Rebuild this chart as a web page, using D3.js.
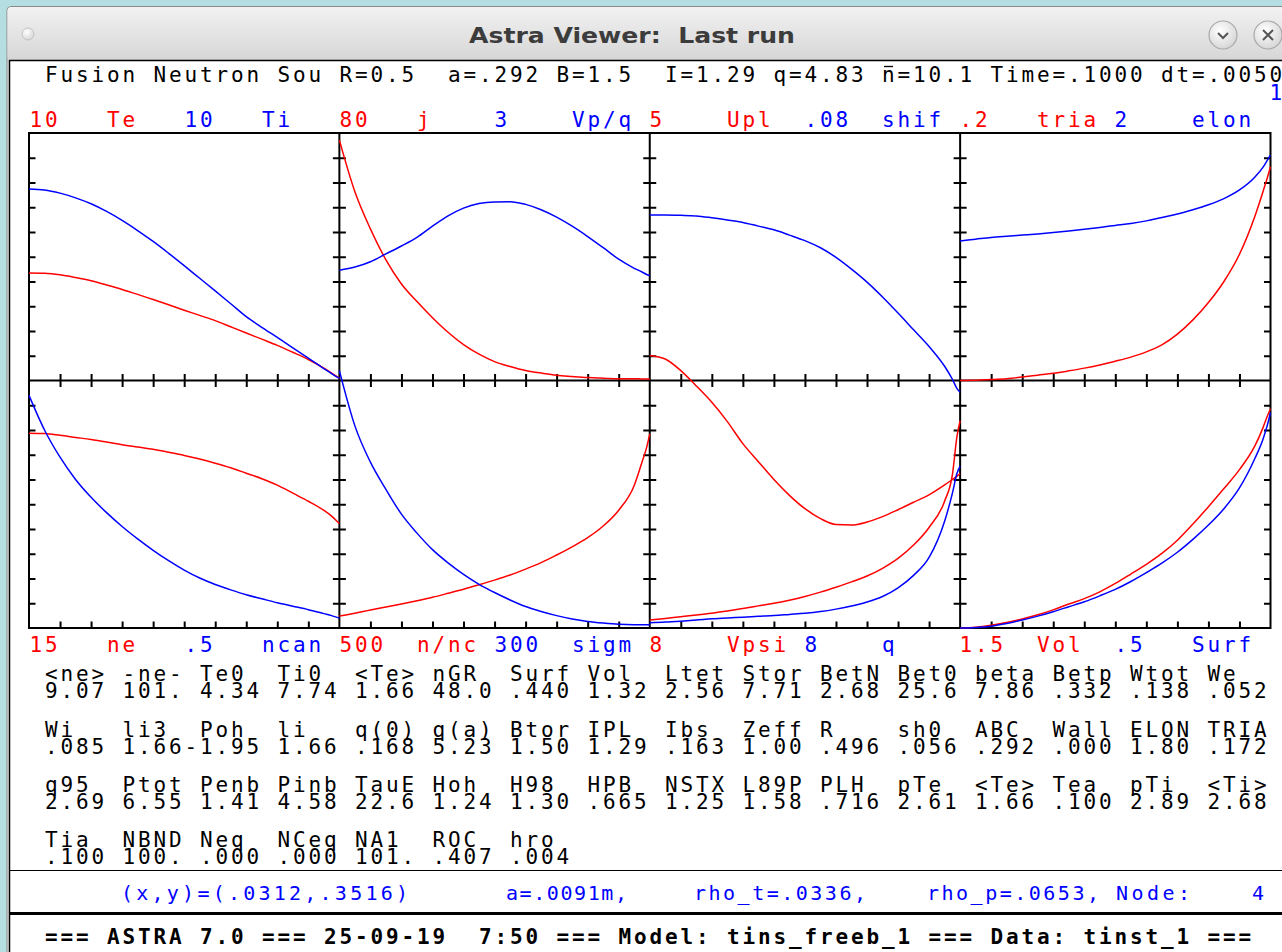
<!DOCTYPE html>
<html lang="en">
<head>
<meta charset="UTF-8">
<title>Astra Viewer: Last run</title>
<style>
  html, body { margin: 0; padding: 0; background: #b5dee2; overflow: hidden; }
  svg { display: block; }
  text { white-space: pre; }
  text.mono { font-family: "DejaVu Sans Mono", monospace; }
</style>
</head>
<body>
<svg id="chart" width="1282" height="952"></svg>
<script src="https://d3js.org/d3.v7.min.js"></script>
<script>
// radial grid (normalised rho), shared by every profile
const rho = [0, .05, .1, .15, .2, .25, .3, .35, .4, .45, .5, .55, .6, .65, .7, .75, .8, .85, .9, .95, .975, .99, 1];

// profiles
const te   = [4.34, 4.33, 4.27, 4.16, 4.03, 3.86, 3.68, 3.48, 3.27, 3.06, 2.84, 2.63, 2.42, 2.17, 1.92, 1.67, 1.42, 1.14, 0.85, 0.50, 0.30, 0.18, 0.10];
const ti   = [7.74, 7.70, 7.57, 7.38, 7.14, 6.83, 6.47, 6.06, 5.62, 5.14, 4.64, 4.13, 3.62, 3.10, 2.58, 2.15, 1.74, 1.32, 0.90, 0.48, 0.28, 0.16, 0.10];
const j    = [77.7, 61, 49, 39, 31.2, 25.5, 20.3, 15.6, 11.6, 8.5, 6.1, 4.5, 3.2, 2.4, 1.7, 1.3, 0.95, 0.75, 0.6, 0.55, 0.52, 0.5, 0.5];
const vpq  = [1.336, 1.375, 1.44, 1.535, 1.63, 1.735, 1.87, 1.995, 2.09, 2.145, 2.165, 2.168, 2.135, 2.07, 1.98, 1.87, 1.745, 1.61, 1.47, 1.36, 1.315, 1.285, 1.27];
const upl  = [0.506, 0.435, 0.2, -0.11, -0.44, -0.83, -1.275, -1.64, -2.0, -2.32, -2.59, -2.79, -2.91, -2.92, -2.86, -2.75, -2.61, -2.46, -2.31, -2.11, -2.0, -1.93, -1.88];
const shif = [0.0535, 0.0535, 0.0534, 0.0532, 0.0526, 0.0519, 0.0511, 0.0499, 0.0487, 0.047, 0.0452, 0.0429, 0.0398, 0.0360, 0.0318, 0.027, 0.0218, 0.0164, 0.0110, 0.0046, 0.0004, -0.0026, -0.0038];
const tria = [0, 0.0003, 0.0008, 0.0015, 0.0028, 0.0043, 0.0058, 0.0078, 0.0100, 0.0126, 0.0156, 0.0189, 0.0231, 0.0288, 0.0375, 0.049, 0.063, 0.080, 0.102, 0.133, 0.152, 0.164, 0.1727];
const elon = [1.128, 1.142, 1.156, 1.166, 1.175, 1.184, 1.195, 1.208, 1.222, 1.237, 1.253, 1.269, 1.29, 1.318, 1.345, 1.38, 1.42, 1.47, 1.54, 1.645, 1.72, 1.78, 1.822];
const ne   = [11.81, 11.79, 11.68, 11.55, 11.42, 11.27, 11.11, 10.97, 10.83, 10.65, 10.46, 10.24, 9.99, 9.71, 9.38, 9.05, 8.66, 8.17, 7.68, 7.13, 6.78, 6.52, 6.33];
const ncan = [0.470, 0.400, 0.345, 0.300, 0.264, 0.233, 0.205, 0.180, 0.157, 0.136, 0.117, 0.101, 0.088, 0.077, 0.067, 0.059, 0.051, 0.044, 0.037, 0.029, 0.025, 0.022, 0.020];
const nnc  = [24.2, 30, 36.5, 42.5, 48.5, 55, 62, 70, 78.3, 87.3, 96.7, 107, 119, 132, 147.5, 164, 182.5, 206, 238, 288, 335, 365, 392];
const sigm = [312, 245, 201, 168, 138, 115, 95, 79, 65, 53, 43, 34, 26, 20, 15, 11, 8, 6, 4.5, 4, 4, 4, 4];
const vpsi = [0.26, 0.31, 0.365, 0.42, 0.48, 0.55, 0.63, 0.715, 0.8, 0.9, 1.02, 1.16, 1.32, 1.49, 1.68, 1.93, 2.25, 2.68, 3.25, 4.1, 4.95, 6.2, 6.7];
const q    = [0.17, 0.19, 0.22, 0.255, 0.295, 0.325, 0.35, 0.38, 0.405, 0.44, 0.475, 0.53, 0.61, 0.71, 0.84, 1.02, 1.30, 1.70, 2.28, 3.45, 4.35, 5.0, 5.23];
const vol  = [0, 0.005, 0.017, 0.034, 0.055, 0.08, 0.11, 0.145, 0.178, 0.219, 0.27, 0.327, 0.386, 0.452, 0.532, 0.63, 0.735, 0.845, 0.96, 1.105, 1.21, 1.285, 1.329];
const surf = [0, 0.001, 0.0037, 0.009, 0.016, 0.024, 0.033, 0.043, 0.053, 0.065, 0.078, 0.094, 0.112, 0.131, 0.153, 0.179, 0.208, 0.241, 0.283, 0.343, 0.38, 0.41, 0.435];

// panel order: top row left->right, then bottom row
const redNames    = ["Te", "j", "Upl", "tria", "ne", "n/nc", "Vpsi", "Vol"];
const redScales   = ["10", "80", "5", ".2", "15", "500", "8", "1.5"];
const blueNames   = ["Ti", "Vp/q", "shif", "elon", "ncan", "sigm", "q", "Surf"];
const blueScales  = ["10", "3", ".08", "2", ".5", "300", "8", ".5"];
const redSeries   = [te, j, upl, tria, ne, nnc, vpsi, vol];
const blueSeries  = [ti, vpq, shif, elon, ncan, sigm, q, surf];

// numbers table below the plots
const tabNames = [
  ["<ne>", "-ne-", "Te0", "Ti0", "<Te>", "nGR", "Surf", "Vol", "Ltet", "Stor", "BetN", "Bet0", "beta", "Betp", "Wtot", "We"],
  ["Wi", "li3", "Poh", "li", "q(0)", "q(a)", "Btor", "IPL", "Ibs", "Zeff", "R", "sh0", "ABC", "Wall", "ELON", "TRIA"],
  ["q95", "Ptot", "Penb", "Pinb", "TauE", "Hoh", "H98", "HPB", "NSTX", "L89P", "PLH", "pTe", "<Te>", "Tea", "pTi", "<Ti>"],
  ["Tia", "NBND", "Neq", "NCeq", "NA1", "ROC", "hro"]
];
const tabValues = [
  ["9.07", "101.", "4.34", "7.74", "1.66", "48.0", ".440", "1.32", "2.56", "7.71", "2.68", "25.6", "7.86", ".332", ".138", ".052"],
  [".085", "1.66", "-1.95", "1.66", ".168", "5.23", "1.50", "1.29", ".163", "1.00", ".496", ".056", ".292", ".000", "1.80", ".172"],
  ["2.69", "6.55", "1.41", "4.58", "22.6", "1.24", "1.30", ".665", "1.25", "1.58", ".716", "2.61", "1.66", ".100", "2.89", "2.68"],
  [".100", "100.", ".000", ".000", "101.", ".407", ".004"]
];

const headerLeft  = " Fusion Neutron Sou R=0.5  a=.292 B=1.5  I=1.29 q=4.83 ";
const headerRight = "n=10.1 Time=.1000 dt=.0050";
const statusParts = ["(x,y)=(.0312,.3516)", "a=.0091m,", "rho_t=.0336,", "rho_p=.0653,", "Node:", "4"];
const statusX     = [121, 506, 694, 927, 1116, 1252];
const statusW     = [287, 121, 172, 172, 74, 11];
const footer      = "=== ASTRA 7.0 === 25-09-19  7:50 === Model: tins_freeb_1 === Data: tinst_1 ===";

// ---- layout ----
const RED = "#ff0000", BLUE = "#0000ff";
const X0 = 29.5, CW = 15.5, FS = 21;
const LS = CW - FS * 0.6021;
const colX = c => X0 + c * CW;

const svg = d3.select("#chart");
const defs = svg.append("defs");
const grad = defs.append("linearGradient").attr("id", "tbar").attr("x1", 0).attr("y1", 0).attr("x2", 0).attr("y2", 1);
grad.append("stop").attr("offset", "0%").attr("stop-color", "#f2f2f2");
grad.append("stop").attr("offset", "100%").attr("stop-color", "#d6d6d6");
const bgrad = defs.append("radialGradient").attr("id", "btn").attr("cx", "40%").attr("cy", "35%").attr("r", "70%");
bgrad.append("stop").attr("offset", "0%").attr("stop-color", "#ffffff");
bgrad.append("stop").attr("offset", "100%").attr("stop-color", "#d4d4d4");

// window chrome
svg.append("rect").attr("x", 7).attr("y", 6.5).attr("width", 1290).attr("height", 960)
  .attr("rx", 4).attr("fill", "#e4e4e4").attr("stroke", "#8a8a8a");
svg.append("rect").attr("x", 7.5).attr("y", 7).attr("width", 1290).attr("height", 53)
  .attr("rx", 4).attr("fill", "url(#tbar)");
svg.append("text").attr("x", 632).attr("y", 43).attr("text-anchor", "middle")
  .attr("textLength", 326).attr("lengthAdjust", "spacingAndGlyphs")
  .style("font-family", "'DejaVu Sans', sans-serif").style("font-weight", "bold").style("font-size", "21px")
  .attr("fill", "#3c3c3c").text("Astra Viewer:  Last run");
svg.append("circle").attr("cx", 28).attr("cy", 34).attr("r", 6)
  .attr("fill", "url(#btn)").attr("stroke", "#c4c4c4");
[1223, 1268].forEach(cx => {
  svg.append("circle").attr("cx", cx).attr("cy", 35).attr("r", 14)
    .attr("fill", "url(#btn)").attr("stroke", "#a9a9a9").attr("stroke-width", 1.2);
});
svg.append("path").attr("d", "M1218,33 L1223,38 L1228,33").attr("fill", "none")
  .attr("stroke", "#555").attr("stroke-width", 2);
svg.append("path").attr("d", "M1263,30 L1273,40 M1273,30 L1263,40").attr("fill", "none")
  .attr("stroke", "#555").attr("stroke-width", 2);

// client area
svg.append("rect").attr("x", 9.5).attr("y", 60.5).attr("width", 1290).attr("height", 900)
  .attr("fill", "#ffffff").attr("stroke", "#000").attr("stroke-width", 1.5);

function mono(str, x, y, color, bold) {
  return svg.append("text").attr("class", "mono")
    .attr("x", x).attr("y", y).attr("xml:space", "preserve")
    .style("font-size", FS + "px").style("letter-spacing", LS + "px")
    .style("font-weight", bold ? "bold" : "normal")
    .attr("fill", color).text(str);
}

// header (n with an overbar)
mono(headerLeft, colX(0), 82, "#000");
mono(headerRight, colX(55), 82, "#000");
svg.append("line").attr("x1", colX(55) + 2).attr("x2", colX(55) + 11)
  .attr("y1", 66.5).attr("y2", 66.5).attr("stroke", "#000").attr("stroke-width", 1.3);
mono("1", colX(80), 100, BLUE);

// ---- plots ----
const xEdge = d3.scaleLinear([0, 4], [29, 1270.5]);
const yEdge = d3.scaleLinear([0, 2], [133, 628]);
const plots = svg.append("g");

// frame
plots.append("rect").attr("x", xEdge(0)).attr("y", yEdge(0))
  .attr("width", xEdge(4) - xEdge(0)).attr("height", yEdge(2) - yEdge(0))
  .attr("fill", "none").attr("stroke", "#000").attr("stroke-width", 2);
[1, 2, 3].forEach(c => {
  plots.append("line").attr("x1", xEdge(c)).attr("x2", xEdge(c))
    .attr("y1", yEdge(0)).attr("y2", yEdge(2)).attr("stroke", "#000").attr("stroke-width", 2);
});
plots.append("line").attr("x1", xEdge(0)).attr("x2", xEdge(4))
  .attr("y1", yEdge(1)).attr("y2", yEdge(1)).attr("stroke", "#000").attr("stroke-width", 2);

// ticks (10 divisions per panel side) drawn with d3 axes
const TK = 6.5;
const tickVals = d3.range(1, 10);
function styleAxis(g) {
  g.select(".domain").remove();
  g.selectAll(".tick line").attr("stroke", "#000").attr("stroke-width", 2);
}
for (let row = 0; row < 2; row++) {
  const ys = d3.scaleLinear([0, 10], [yEdge(row + 1), yEdge(row)]);
  for (let c = 0; c <= 4; c++) {
    if (c < 4) plots.append("g").attr("transform", `translate(${xEdge(c)},0)`)
      .call(d3.axisRight(ys).tickValues(tickVals).tickSize(TK).tickFormat("")).call(styleAxis);
    if (c > 0) plots.append("g").attr("transform", `translate(${xEdge(c)},0)`)
      .call(d3.axisLeft(ys).tickValues(tickVals).tickSize(TK).tickFormat("")).call(styleAxis);
  }
}
for (let c = 0; c < 4; c++) {
  const xs = d3.scaleLinear([0, 10], [xEdge(c), xEdge(c + 1)]);
  plots.append("g").attr("transform", `translate(0,${yEdge(1)})`)
    .call(d3.axisTop(xs).tickValues(tickVals).tickSize(TK).tickFormat("")).call(styleAxis);
  plots.append("g").attr("transform", `translate(0,${yEdge(1)})`)
    .call(d3.axisBottom(xs).tickValues(tickVals).tickSize(TK).tickFormat("")).call(styleAxis);
  plots.append("g").attr("transform", `translate(0,${yEdge(2)})`)
    .call(d3.axisTop(xs).tickValues(tickVals).tickSize(TK).tickFormat("")).call(styleAxis);
}

// curves and labels
redSeries.forEach((_, i) => {
  const row = i < 4 ? 0 : 1, col = i % 4;
  const x = d3.scaleLinear([0, 1], [xEdge(col), xEdge(col + 1)]);
  const pair = [
    { data: redSeries[i], scale: +redScales[i], color: RED },
    { data: blueSeries[i], scale: +blueScales[i], color: BLUE }
  ];
  pair.forEach(s => {
    const y = d3.scaleLinear([0, s.scale], [yEdge(row + 1), yEdge(row)]);
    const line = d3.line().x((d, k) => x(rho[k])).y(d => y(d)).curve(d3.curveMonotoneX);
    plots.append("path").datum(s.data).attr("d", line)
      .attr("fill", "none").attr("stroke", s.color).attr("stroke-width", 1.5)
      .attr("stroke-linejoin", "round");
  });
  const ly = row === 0 ? 127 : 652;
  const c0 = col * 20;
  mono(redScales[i], colX(c0), ly, RED);
  mono(redNames[i], colX(c0 + 5), ly, RED);
  mono(blueScales[i], colX(c0 + 10), ly, BLUE);
  mono(blueNames[i], colX(c0 + 15), ly, BLUE);
});

// ---- numbers table ----
const nameY = [681, 737, 792, 847];
tabNames.forEach((row, r) => {
  row.forEach((nm, f) => {
    mono(nm, colX(f * 5 + 1), nameY[r], "#000");
    const v = tabValues[r][f];
    mono(v, colX(f * 5 + 5 - v.length), nameY[r] + 17, "#000");
  });
});

// ---- status box ----
svg.append("line").attr("x1", 9.5).attr("x2", 1282).attr("y1", 870.5).attr("y2", 870.5)
  .attr("stroke", "#000").attr("stroke-width", 1.2);
svg.append("line").attr("x1", 9.5).attr("x2", 1282).attr("y1", 913.5).attr("y2", 913.5)
  .attr("stroke", "#000").attr("stroke-width", 3);
statusParts.forEach((s, k) => {
  svg.append("text").attr("class", "mono").attr("x", statusX[k]).attr("y", 900)
    .attr("textLength", statusW[k]).attr("lengthAdjust", "spacing")
    .style("font-size", "20px").attr("fill", BLUE).text(s);
});

// footer
mono(footer, colX(1), 944, "#000", true);
</script>
</body>
</html>
